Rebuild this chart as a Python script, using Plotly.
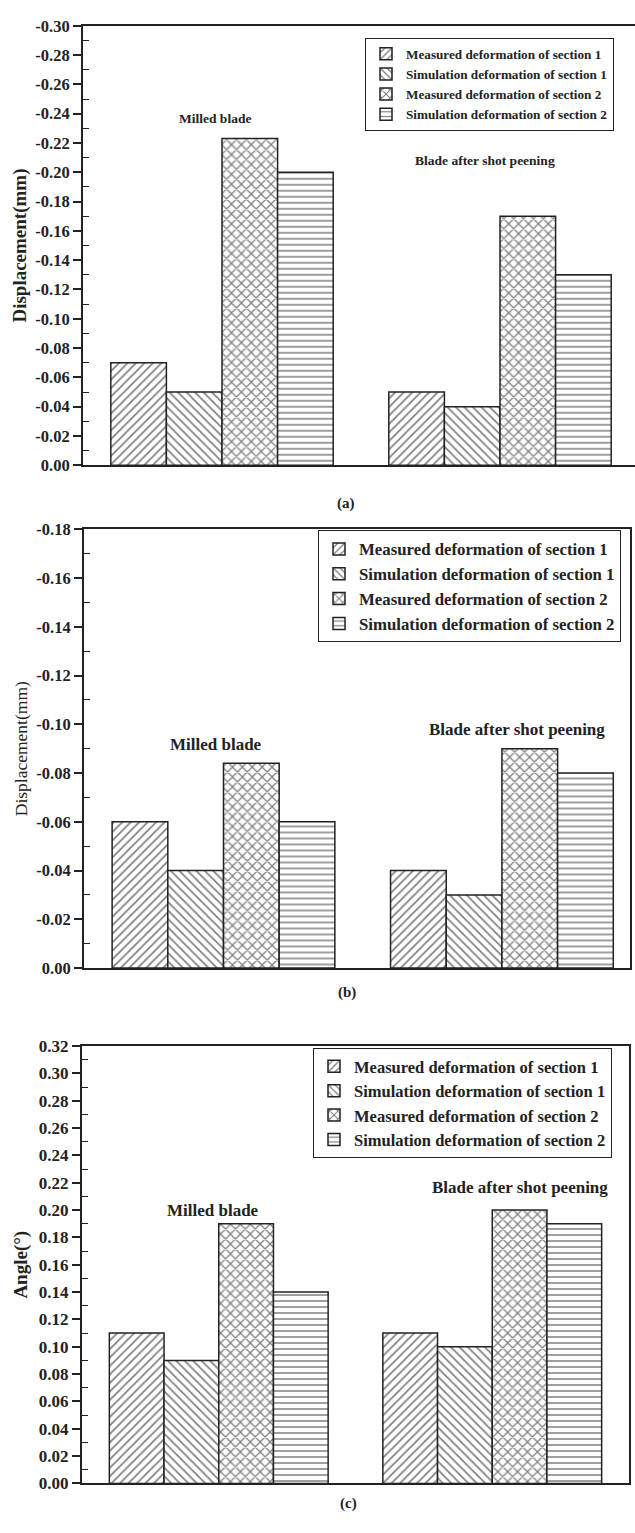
import plotly.graph_objects as go

# ---------------- data ----------------
groups = ["Milled blade", "Blade after shot peening"]
series_names = [
    "Measured deformation of section 1",
    "Simulation deformation of section 1",
    "Measured deformation of section 2",
    "Simulation deformation of section 2",
]
patterns = ["/", "\\", "x", "-"]

# panel (a): displacement (mm)
a_meas1 = [-0.07, -0.05]
a_sim1 = [-0.05, -0.04]
a_meas2 = [-0.223, -0.17]
a_sim2 = [-0.20, -0.13]

# panel (b): displacement (mm)
b_meas1 = [-0.06, -0.04]
b_sim1 = [-0.04, -0.03]
b_meas2 = [-0.084, -0.09]
b_sim2 = [-0.06, -0.08]

# panel (c): angle (deg)
c_meas1 = [0.11, 0.11]
c_sim1 = [0.09, 0.10]
c_meas2 = [0.19, 0.20]
c_sim2 = [0.14, 0.19]

a_ticks = [0.0, -0.02, -0.04, -0.06, -0.08, -0.10, -0.12, -0.14, -0.16, -0.18, -0.20, -0.22, -0.24, -0.26, -0.28, -0.30]
a_ticktext = ["0.00", "-0.02", "-0.04", "-0.06", "-0.08", "-0.10", "-0.12", "-0.14", "-0.16", "-0.18", "-0.20", "-0.22", "-0.24", "-0.26", "-0.28", "-0.30"]
b_ticks = [0.0, -0.02, -0.04, -0.06, -0.08, -0.10, -0.12, -0.14, -0.16, -0.18]
b_ticktext = ["0.00", "-0.02", "-0.04", "-0.06", "-0.08", "-0.10", "-0.12", "-0.14", "-0.16", "-0.18"]
c_ticks = [0.0, 0.02, 0.04, 0.06, 0.08, 0.10, 0.12, 0.14, 0.16, 0.18, 0.20, 0.22, 0.24, 0.26, 0.28, 0.30, 0.32]
c_ticktext = ["0.00", "0.02", "0.04", "0.06", "0.08", "0.10", "0.12", "0.14", "0.16", "0.18", "0.20", "0.22", "0.24", "0.26", "0.28", "0.30", "0.32"]

# ---------------- layout helpers ----------------
W, H = 635, 1533
FONT = "Liberation Serif"
INK = "#222222"
xpos = [0, 1]


def fx(px):
    return px / W


def fy(py):
    return 1 - py / H


def mids(t):
    return [(t[i] + t[i + 1]) / 2 for i in range(len(t) - 1)]


fig = go.Figure()

panels = [
    dict(vals=[a_meas1, a_sim1, a_meas2, a_sim2], xa="x", ya="y", legend="legend"),
    dict(vals=[b_meas1, b_sim1, b_meas2, b_sim2], xa="x2", ya="y2", legend="legend2"),
    dict(vals=[c_meas1, c_sim1, c_meas2, c_sim2], xa="x3", ya="y3", legend="legend3"),
]
pat_sizes = [6, 6, 7, 6]
pat_sol = [0.28, 0.28, 0.33, 0.25]
for p in panels:
    for i, (name, vals) in enumerate(zip(series_names, p["vals"])):
        fig.add_trace(go.Bar(
            x=xpos, y=vals, name=name,
            xaxis=p["xa"], yaxis=p["ya"], legend=p["legend"],
            marker=dict(
                color="white",
                line=dict(color=INK, width=1.5),
                pattern=dict(shape=patterns[i], fgcolor="#000000", bgcolor="white",
                             size=pat_sizes[i], solidity=pat_sol[i]),
            ),
        ))

common_x = dict(showline=True, linecolor=INK, linewidth=2, ticks="", showticklabels=False,
                showgrid=False, zeroline=False)


def yax(ticks, text, rng, dom, title, bold_title, tsize, fsize, mirror, standoff):
    return dict(
        domain=dom, range=rng, tickvals=ticks, ticktext=text,
        showline=True, linecolor=INK, linewidth=2, mirror=mirror,
        ticks="outside", ticklen=8, tickwidth=1.5, tickcolor=INK,
        minor=dict(ticks="inside", ticklen=6, tickwidth=1.2, tickcolor=INK,
                   tickmode="array", tickvals=mids(ticks)),
        showgrid=False, zeroline=False,
        tickfont=dict(family=FONT, size=fsize, color=INK, weight="bold"),
        title=dict(text=title, standoff=standoff,
                   font=dict(family=FONT, size=tsize, color=INK,
                             weight="bold" if bold_title else "normal")),
    )


fig.update_layout(
    width=W, height=H,
    margin=dict(l=0, r=0, t=0, b=0),
    paper_bgcolor="white", plot_bgcolor="white",
    barmode="group", bargap=0.2, bargroupgap=0,
    xaxis=dict(common_x, domain=[fx(83), fx(635)], range=[-0.5, (635 - 222) / 278], anchor="y", mirror=True),
    yaxis=yax(a_ticks, a_ticktext, [0, -0.30], [fy(462), fy(17)], "Displacement(mm)", True, 19, 16.5, False, 4),
    xaxis2=dict(common_x, domain=[fx(84), fx(630)], range=[-0.501, 1.46], anchor="y2", mirror=True),
    yaxis2=yax(b_ticks, b_ticktext, [0, -0.18], [fy(971), fy(527)], "Displacement(mm)", False, 17.5, 16.5, True, 4),
    xaxis3=dict(common_x, domain=[fx(82), fx(629)], range=[-0.5, 1.5], anchor="y3", mirror=True),
    yaxis3=yax(c_ticks, c_ticktext, [0, 0.32], [fy(1493), fy(1050)], "Angle(°)", True, 19, 17, True, 6),
)
fig.layout.yaxis.anchor = "x"
fig.layout.yaxis2.anchor = "x2"
fig.layout.yaxis3.anchor = "x3"

leg_common = dict(bgcolor="white", bordercolor=INK, borderwidth=1, xanchor="left", yanchor="top",
                  itemwidth=30, tracegroupgap=0, traceorder="normal")
fig.update_layout(
    legend=dict(leg_common, x=fx(365), y=fy(29),
                font=dict(family=FONT, size=13.2, color=INK, weight="bold")),
    legend2=dict(leg_common, x=fx(318), y=fy(528),
                 font=dict(family=FONT, size=16.8, color=INK, weight="bold")),
    legend3=dict(leg_common, x=fx(313), y=fy(1052),
                 font=dict(family=FONT, size=16.5, color=INK, weight="bold")),
)

# group labels (centre positions in data units)
ann = [
    ("x", "y", -0.025, -0.237, groups[0], 13.5),
    ("x", "y", 0.946, -0.208, groups[1], 13.5),
    ("x2", "y2", -0.027, -0.0916, groups[0], 17),
    ("x2", "y2", 1.054, -0.098, groups[1], 17),
    ("x3", "y3", -0.02, 0.1994, groups[0], 17),
    ("x3", "y3", 1.10, 0.2165, groups[1], 17),
]
for xr, yr, xv, yv, txt, fs in ann:
    fig.add_annotation(x=xv, y=yv, xref=xr, yref=yr, text=txt, showarrow=False,
                       yanchor="middle",
                       font=dict(family=FONT, size=fs, color=INK, weight="bold"))

for txt, px, py in [("(a)", 346, 490), ("(b)", 347, 996), ("(c)", 348, 1524)]:
    fig.add_annotation(x=fx(px), y=fy(py), xref="paper", yref="paper", text=txt, showarrow=False,
                       font=dict(family=FONT, size=15, color=INK, weight="bold"))

fig.write_html("out.html")
